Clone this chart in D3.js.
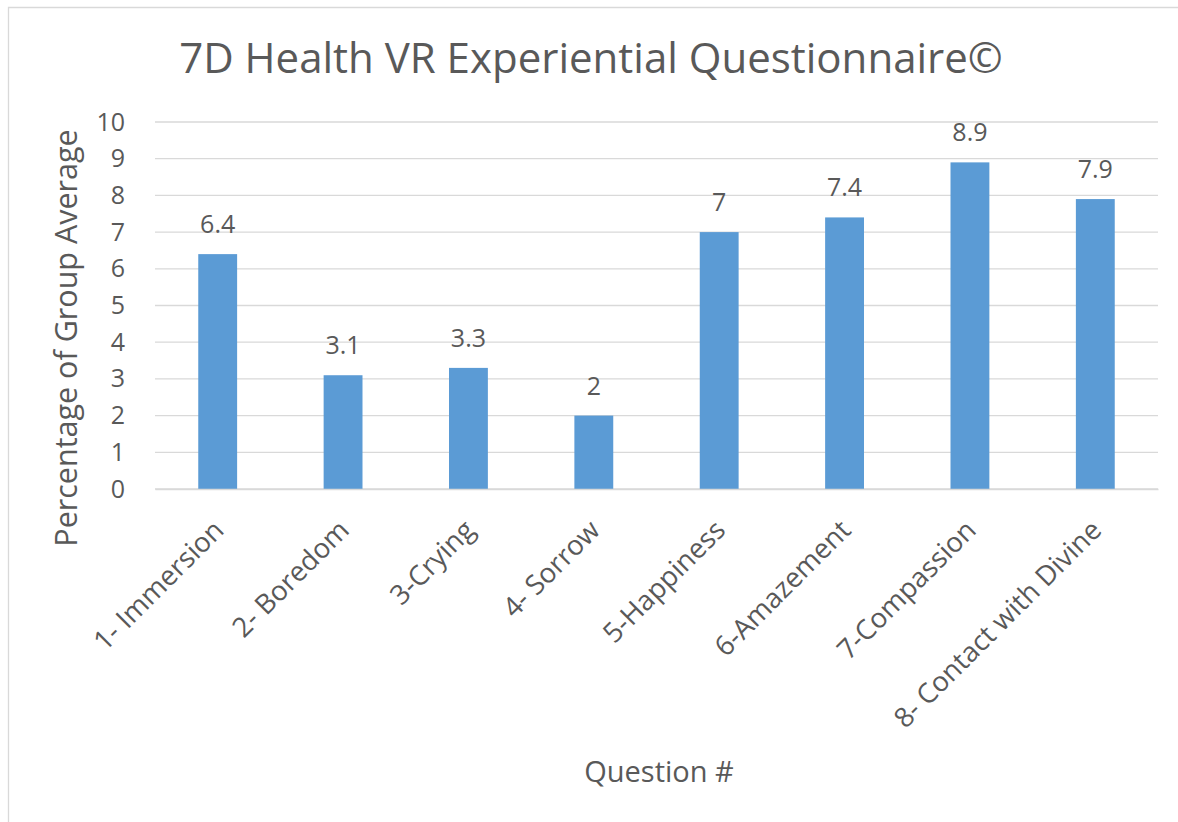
<!DOCTYPE html>
<html>
<head>
<meta charset="utf-8">
<script src="https://cdn.jsdelivr.net/npm/d3@7"></script>
<style>
  body { margin: 0; background: #fff; }
  text { font-family: "Open Sans", sans-serif; fill: #595959; }
</style>
</head>
<body>
<svg id="chart"></svg>
<script>
var questions = ["1- Immersion", "2- Boredom", "3-Crying", "4- Sorrow", "5-Happiness",
                 "6-Amazement", "7-Compassion", "8- Contact with Divine"];
var averages = [6.4, 3.1, 3.3, 2, 7, 7.4, 8.9, 7.9];
var yTicks = [0, 1, 2, 3, 4, 5, 6, 7, 8, 9, 10];

var width = 1178, height = 822;
var margin = {top: 122, right: 20, bottom: 333, left: 155};

var svg = d3.select("#chart")
  .attr("width", width)
  .attr("height", height);

// frame
svg.append("path")
  .attr("d", "M8.5," + height + "V7.5H" + width)
  .attr("fill", "none")
  .attr("stroke", "#d9d9d9")
  .attr("stroke-width", 1.3);

var x = d3.scaleBand()
  .domain(questions)
  .range([margin.left, width - margin.right])
  .paddingInner(0.69)
  .paddingOuter(0.345);

var y = d3.scaleLinear()
  .domain([0, 10])
  .range([height - margin.bottom, margin.top]);

// gridlines
svg.append("g")
  .selectAll("line")
  .data(yTicks)
  .enter().append("line")
    .attr("x1", margin.left)
    .attr("x2", width - margin.right)
    .attr("y1", function(d) { return y(d); })
    .attr("y2", function(d) { return y(d); })
    .attr("stroke", "#d9d9d9")
    .attr("stroke-width", 1.3);

// y axis
var yAxis = svg.append("g")
  .attr("transform", "translate(" + margin.left + ",0)")
  .call(d3.axisLeft(y).tickValues(yTicks).tickSize(0).tickPadding(30));
yAxis.select(".domain").remove();
yAxis.selectAll("text")
  .style("font-size", "25px")
  .attr("fill", "#595959");

// bars
svg.append("g")
  .selectAll("rect")
  .data(averages)
  .enter().append("rect")
    .attr("x", function(d, i) { return x(questions[i]); })
    .attr("y", function(d) { return y(d); })
    .attr("width", x.bandwidth())
    .attr("height", function(d) { return y(0) - y(d); })
    .attr("fill", "#5b9bd5");

// value labels
svg.append("g")
  .selectAll("text")
  .data(averages)
  .enter().append("text")
    .attr("x", function(d, i) { return x(questions[i]) + x.bandwidth() / 2; })
    .attr("y", function(d) { return y(d) - 21; })
    .attr("text-anchor", "middle")
    .style("font-size", "25px")
    .text(function(d) { return d; });

// x axis
var xAxis = svg.append("g")
  .attr("transform", "translate(0," + y(0) + ")")
  .call(d3.axisBottom(x).tickSize(0).tickPadding(0));
xAxis.select(".domain")
  .attr("stroke", "#d9d9d9")
  .attr("stroke-width", 1.3);
xAxis.selectAll("text")
  .style("font-size", "27.5px")
  .attr("fill", "#595959")
  .attr("text-anchor", "end")
  .attr("dy", "0.35em")
  .attr("transform", "translate(1,36) rotate(-45)");

// title
svg.append("text")
  .attr("x", 591)
  .attr("y", 73)
  .attr("text-anchor", "middle")
  .style("font-size", "42px")
  .text("7D Health VR Experiential Questionnaire\u00a9");

// axis titles
svg.append("text")
  .attr("transform", "translate(77," + 338 + ") rotate(-90)")
  .attr("text-anchor", "middle")
  .style("font-size", "30.5px")
  .text("Percentage of Group Average");

svg.append("text")
  .attr("x", 659)
  .attr("y", 782)
  .attr("text-anchor", "middle")
  .style("font-size", "29px")
  .text("Question #");
</script>
</body>
</html>
